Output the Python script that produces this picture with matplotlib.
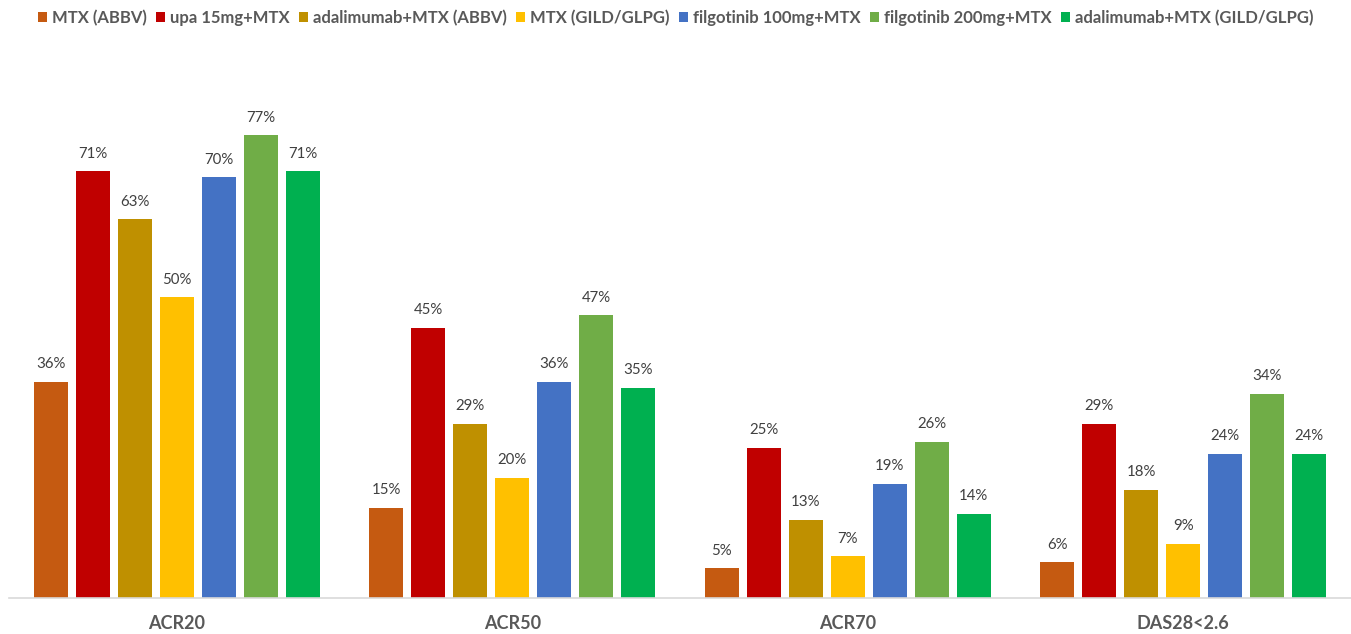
import matplotlib.pyplot as plt
import numpy as np

plt.rcParams['font.family'] = ['Lato', 'DejaVu Sans']

categories = ['ACR20', 'ACR50', 'ACR70', 'DAS28<2.6']
series = ['MTX (ABBV)', 'upa 15mg+MTX', 'adalimumab+MTX (ABBV)', 'MTX (GILD/GLPG)',
          'filgotinib 100mg+MTX', 'filgotinib 200mg+MTX', 'adalimumab+MTX (GILD/GLPG)']
mtx_abbv = [36, 15, 5, 6]
upa_15 = [71, 45, 25, 29]
ada_abbv = [63, 29, 13, 18]
mtx_gild = [50, 20, 7, 9]
filgo_100 = [70, 36, 19, 24]
filgo_200 = [77, 47, 26, 34]
ada_gild = [71, 35, 14, 24]
values = [mtx_abbv, upa_15, ada_abbv, mtx_gild, filgo_100, filgo_200, ada_gild]
colors = ['#C55A11', '#C00000', '#BF9000', '#FFC000', '#4472C4', '#70AD47', '#00B050']

fig = plt.figure(figsize=(13.51, 6.34), dpi=100)
ax = fig.add_axes([9/1351, 1 - 598/634, 1 - 9/1351, 541/634])

x = np.arange(len(categories))
step = 0.125
width = 0.101
for i, (name, vals, c) in enumerate(zip(series, values, colors)):
    pos = x + (i - 3) * step
    bars = ax.bar(pos, vals, width, color=c, label=name)
    for b, v in zip(bars, vals):
        ax.annotate(f'{v}%', (b.get_x() + b.get_width() / 2, v),
                    xytext=(0, 7.5), textcoords='offset points',
                    ha='center', va='bottom', fontsize=10.8, color='#404040')

ax.set_xlim(-0.5, 3.5)
ax.set_ylim(0, 90)
ax.set_xticks(x)
ax.set_xticklabels(categories, fontsize=13, fontweight='bold', color='#595959')
ax.tick_params(axis='x', length=0, pad=12)
ax.set_yticks([])
for s in ['top', 'left', 'right']:
    ax.spines[s].set_visible(False)
ax.spines['bottom'].set_color('#D9D9D9')
ax.spines['bottom'].set_linewidth(1.2)

fig.legend(loc='center', bbox_to_anchor=(0.5, 1 - 18/634), ncol=7, frameon=False,
           prop={'size': 12, 'weight': 'bold'}, labelcolor='#595959',
           handlelength=0.55, handleheight=0.55, handletextpad=0.3, columnspacing=0.55)

fig.savefig('out.png', dpi=100)
